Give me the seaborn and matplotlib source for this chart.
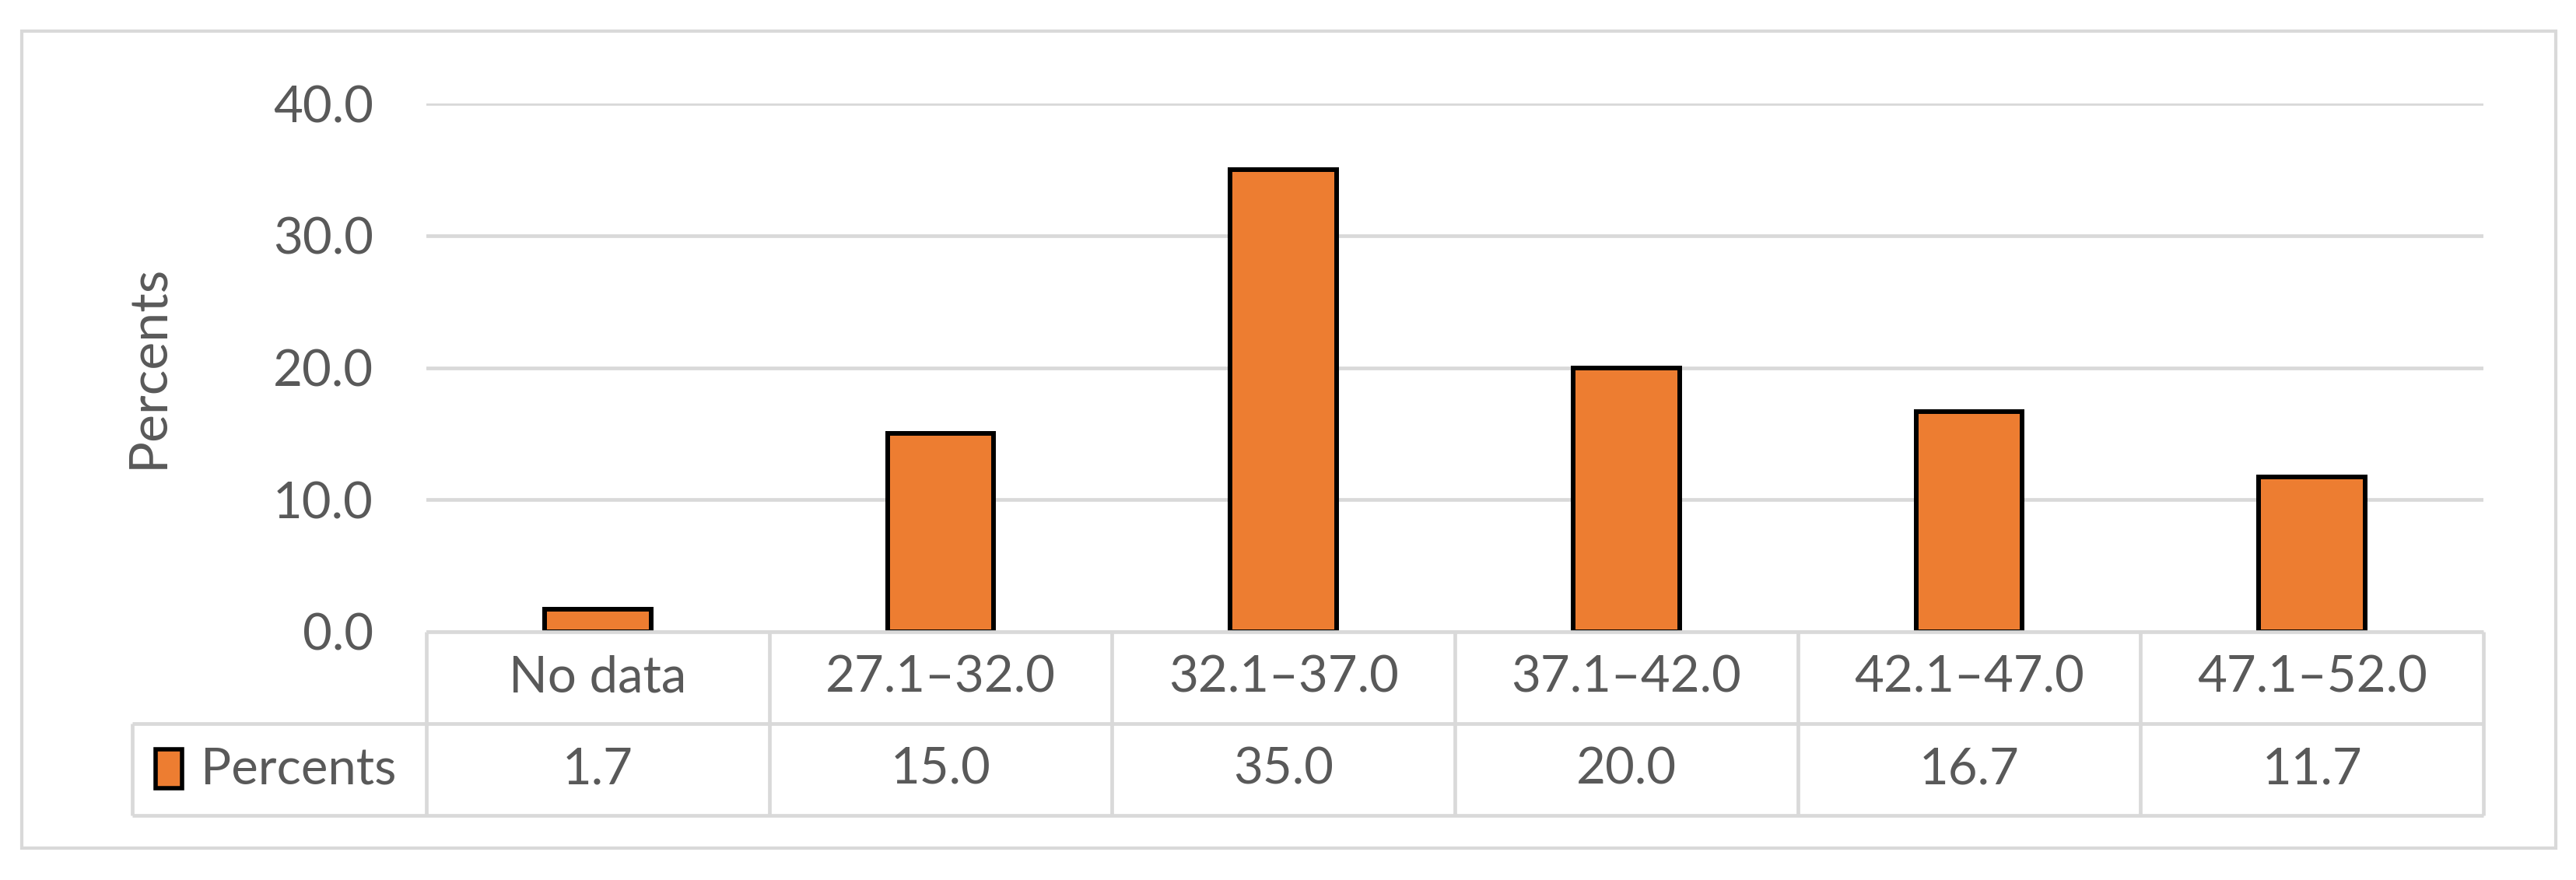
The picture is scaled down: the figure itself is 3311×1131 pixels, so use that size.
import pandas as pd
import matplotlib.pyplot as plt
import seaborn as sns
from matplotlib.patches import Rectangle

# Datos
categorias = ['No data', '27.1–32.0', '32.1–37.0', '37.1–42.0', '42.1–47.0', '47.1–52.0']
porcentajes = [1.7, 15.0, 35.0, 20.0, 16.7, 11.7]
serie = 'Percents'
ticks_y = [0, 10, 20, 30, 40]

df = pd.DataFrame({'cat': categorias, 'val': porcentajes})

sns.set_style('white')
plt.rcParams['font.family'] = ['Lato', 'DejaVu Sans']

naranja = '#ED7D31'
gris = '#D9D9D9'
texto = '#595959'
fs = 47

W, H = 3312, 1131
fig = plt.figure(figsize=(W / 100, H / 100), dpi=100)

# ejes de las barras (posiciones en pixeles de la imagen)
x0, x1 = 548, 3192
y0, y40 = 812, 133
ax = fig.add_axes([x0 / W, 1 - y0 / H, (x1 - x0) / W, (y0 - y40) / H])
sns.barplot(data=df, x='cat', y='val', color=naranja, edgecolor='black',
            linewidth=4.3, width=0.31, saturation=1, ax=ax, zorder=3)
ax.set_xlim(-0.5, len(categorias) - 0.5)
ax.set_ylim(0, 40)
ax.set_yticks(ticks_y)
ax.set_yticklabels([f'{t:.1f}' for t in ticks_y], fontsize=fs, color=texto)
ax.tick_params(axis='y', length=0, pad=49)
ax.set_xticks([])
ax.set_xlabel('')
ax.set_ylabel('')
ax.yaxis.grid(True, color=gris, linewidth=3.4)
ax.set_axisbelow(True)
for s in ax.spines.values():
    s.set_visible(False)

# tabla de datos debajo
tx0, ty1 = 170, 1048
cw = (x1 - x0) / len(categorias)
hw = (x0 - tx0) / cw
tab = fig.add_axes([tx0 / W, 1 - ty1 / H, (x1 - tx0) / W, (ty1 - y0) / H])
tab.set_xlim(-0.5 - hw, len(categorias) - 0.5)
tab.set_ylim(0, 2)
tab.axis('off')
n = len(categorias)
lw = 3.4
tab.hlines([0, 1], -0.5 - hw, n - 0.5, color=gris, lw=lw, clip_on=False)
tab.hlines(2, -0.5, n - 0.5, color=gris, lw=lw, clip_on=False)
tab.vlines(-0.5 - hw, 0, 1, color=gris, lw=lw, clip_on=False)
tab.vlines([k - 0.5 for k in range(n + 1)], 0, 2, color=gris, lw=lw, clip_on=False)
for i, (c, v) in enumerate(zip(categorias, porcentajes)):
    tab.text(i, 1.5, c, ha='center', va='center', fontsize=fs, color=texto)
    tab.text(i, 0.5, f'{v:.1f}', ha='center', va='center', fontsize=fs, color=texto)

# leyenda dentro de la tabla
kx = -0.5 - hw + 30 / cw
tab.add_patch(Rectangle((kx, 0.3), 34 / cw, 0.42, facecolor=naranja,
                        edgecolor='black', linewidth=4, clip_on=False))
tab.text(-0.5 - hw + 88 / cw, 0.5, serie, ha='left', va='center',
         fontsize=fs, color=texto)

# etiqueta eje y
fig.text(190 / W, 1 - 471 / H, 'Percents', rotation=90, ha='center',
         va='center', fontsize=fs + 2, color=texto)

# borde exterior
fig.add_artist(Rectangle((28 / W, 1 - 1090 / H), (3285 - 28) / W, (1090 - 40) / H,
                         transform=fig.transFigure, fill=False,
                         edgecolor=gris, linewidth=3))

plt.savefig('out.png', dpi=100)
